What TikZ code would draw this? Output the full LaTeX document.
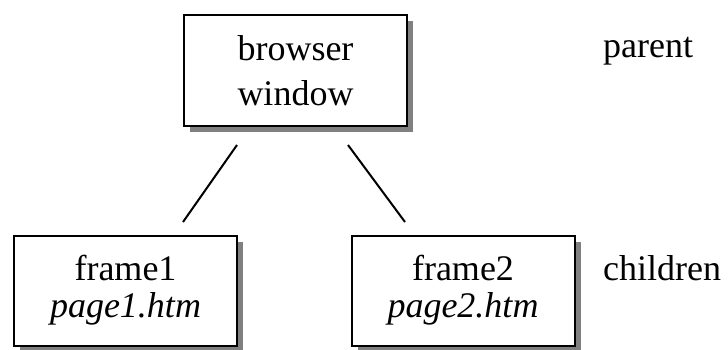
\documentclass[tikz,border=0pt]{standalone}
\usepackage{fontspec}
\setmainfont{Liberation Serif}
\usetikzlibrary{shadows}
\begin{document}
\begin{tikzpicture}[x=1pt,y=-1pt,
  box/.style={draw=black, line width=2pt, fill=white, inner sep=0pt,
    minimum width=223pt, align=center,
    drop shadow={shadow xshift=6pt, shadow yshift=-6pt, fill=black!50, opacity=1}},
  link/.style={draw=black, line width=2pt},
  lbl/.style={anchor=base west, inner sep=0pt, font=\fontsize{36}{40}\selectfont}]
\useasboundingbox (0,0) rectangle (728,349);
\node[box, minimum height=111pt, font=\fontsize{36}{45}\selectfont] (top) at (295.5,70.5) {browser\\window};
\node[box, minimum height=110pt, font=\fontsize{36}{37}\selectfont] (f1) at (125.5,290.5) {frame1\\\textit{page1.htm}};
\node[box, minimum height=110pt, font=\fontsize{36}{37}\selectfont] (f2) at (463,290.5) {frame2\\\textit{page2.htm}};
\node[lbl] (parent) at (603,57) {parent};
\node[lbl] (children) at (603,280) {children};
\coordinate (l1a) at (237,145);
\coordinate (l1b) at (183,222);
\coordinate (l2a) at (348,145);
\coordinate (l2b) at (405,222);
\draw[link] (l1a) -- (l1b);
\draw[link] (l2a) -- (l2b);
\end{tikzpicture}
\end{document}
